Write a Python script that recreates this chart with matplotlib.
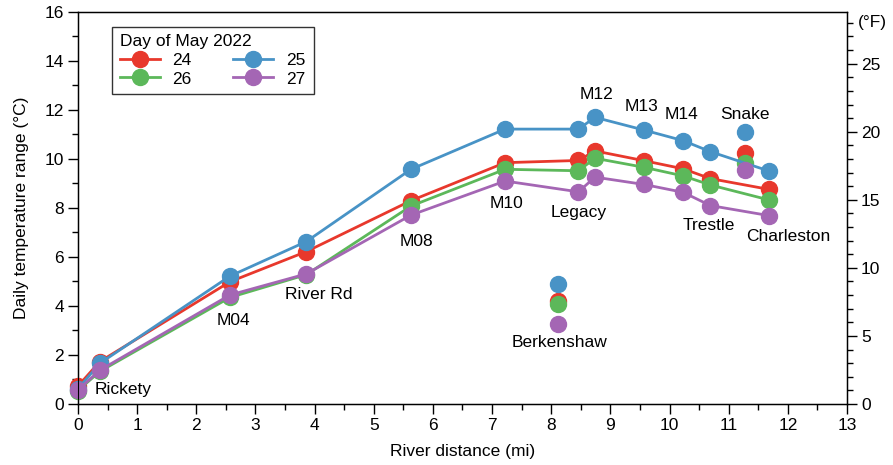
import numpy as np
import matplotlib.pyplot as plt
from matplotlib.ticker import MultipleLocator
import matplotlib.transforms as mtransforms

plt.rcParams['font.family'] = ['Liberation Sans', 'DejaVu Sans']
plt.rcParams['font.size'] = 12.5

# main-stem stations (connected by lines)
stations = ["Rickety", "", "M04", "River Rd", "M08", "M10", "Legacy",
            "M12", "M13", "M14", "Trestle", "Charleston"]
dist = [0.0, 0.37, 2.57, 3.86, 5.63, 7.22, 8.46, 8.74, 9.57, 10.23, 10.69, 11.68]

d24 = [0.73, 1.73, 4.99, 6.22, 8.30, 9.85, 9.94, 10.33, 9.93, 9.60, 9.20, 8.76]
d25 = [0.62, 1.66, 5.22, 6.63, 9.58, 11.22, 11.22, 11.70, 11.18, 10.75, 10.30, 9.51]
d26 = [0.55, 1.33, 4.35, 5.28, 8.08, 9.58, 9.52, 10.03, 9.66, 9.31, 8.94, 8.33]
d27 = [0.57, 1.38, 4.45, 5.31, 7.71, 9.10, 8.66, 9.26, 8.96, 8.64, 8.10, 7.69]

# side stations (isolated points)
side_stations = ["Berkenshaw", "Snake"]
side_dist = [8.12, 11.28]
s24 = [4.22, 10.26]
s25 = [4.90, 11.11]
s26 = [4.07, 9.82]
s27 = [3.25, 9.55]

days = ["24", "26", "25", "27"]
colors = {"24": "#e8382c", "25": "#4893c6", "26": "#5cb85a", "27": "#a466b4"}
main = {"24": d24, "25": d25, "26": d26, "27": d27}
side = {"24": s24, "25": s25, "26": s26, "27": s27}

# label placement: (x, y) in data units
label_pos = {
    "Rickety": (0.77, 0.6), "M04": (2.63, 3.4), "River Rd": (4.07, 4.45),
    "M08": (5.73, 6.65), "M10": (7.24, 8.2), "Legacy": (8.47, 7.8),
    "M12": (8.76, 12.65), "M13": (9.53, 12.15), "M14": (10.2, 11.8),
    "Trestle": (10.67, 7.3), "Charleston": (12.0, 6.85),
    "Berkenshaw": (8.14, 2.5), "Snake": (11.28, 11.8),
}

fig = plt.figure(figsize=(8.93, 4.65), dpi=100)
ax = fig.add_axes([0.0873, 0.1312, 0.8612, 0.843])

handles = {}
for day in ["24", "26", "25", "27"]:
    h, = ax.plot(dist, main[day], '-o', color=colors[day], lw=2.0, ms=11.5,
                 clip_on=False, zorder=3)
    ax.plot(side_dist, side[day], 'o', color=colors[day], ms=11.5,
            clip_on=False, zorder=3)
    handles[day] = h

for name, (x, y) in label_pos.items():
    ax.text(x, y, name, ha='center', va='center')

ax.set_xlim(0, 13)
ax.set_ylim(0, 16)
ax.xaxis.set_major_locator(MultipleLocator(1))
ax.xaxis.set_minor_locator(MultipleLocator(0.5))
ax.yaxis.set_major_locator(MultipleLocator(2))
ax.yaxis.set_minor_locator(MultipleLocator(1))
ax.tick_params(which='major', direction='out', length=7, width=1, pad=3)
ax.tick_params(which='minor', direction='out', length=4, width=1)
ax.set_xlabel("River distance (mi)", labelpad=8)
ax.set_ylabel("Daily temperature range (°C)", labelpad=11)
for s in ax.spines.values():
    s.set_linewidth(1)

ax2 = ax.twinx()
ax2.set_ylim(0, 16 * 1.8)
ax2.yaxis.set_major_locator(MultipleLocator(5))
ax2.yaxis.set_minor_locator(MultipleLocator(1))
ax2.tick_params(which='major', direction='out', length=7, width=1, pad=3)
ax2.tick_params(which='minor', direction='out', length=4, width=1)
trans = mtransforms.blended_transform_factory(ax2.transAxes, ax2.transData)
ax2.text(1.014, 28.0, "(°F)", transform=trans, ha='left', va='center')

leg = ax.legend([handles[d] for d in days], days, title="Day of May 2022",
                ncol=2, loc='upper left', bbox_to_anchor=(0.044, 0.963),
                frameon=True, fancybox=False, edgecolor='black',
                borderpad=0.45, borderaxespad=0, handlelength=2.3,
                columnspacing=2.4, handletextpad=0.75, labelspacing=0.2,
                alignment='left')
leg.get_frame().set_linewidth(1)
leg.set_zorder(5)

fig.savefig("out.png", dpi=100)
